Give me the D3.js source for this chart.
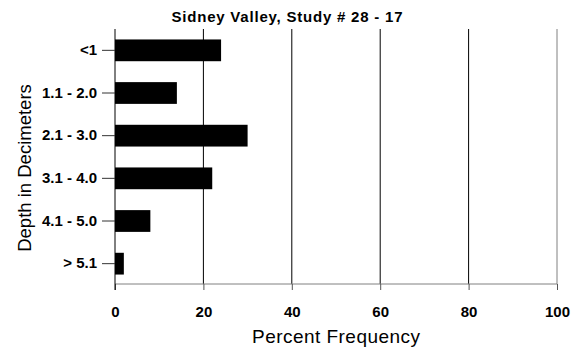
<!DOCTYPE html>
<html>
    <head>
        <meta charset="UTF-8">
        <script src="https://d3js.org/d3.v7.min.js"></script>
        <style>
            body { margin: 0; background: #fff; }
        </style>
    </head>

    <body>

        <svg id="canvas"></svg>

        <script>

            width = 572;
            height = 349;

            depths = ["<1", "1.1 - 2.0", "2.1 - 3.0", "3.1 - 4.0", "4.1 - 5.0", "> 5.1"];
            percents = [24, 14, 30, 22, 8, 2];
            xTicks = [0, 20, 40, 60, 80, 100];

            left = 115; right = 557;
            top_ = 29; bottom = 284;
            font = "Arial, 'Liberation Sans', sans-serif";

            canvas = d3.select("#canvas")
                .attr("width", width)
                .attr("height", height)
                .style("font-family", font);

            x = d3.scaleLinear().domain([0, 100]).range([left, right]);
            y = d3.scaleBand().domain(depths)
                .range([top_, bottom + 1])
                .paddingInner(0.49)
                .paddingOuter(0.245);

            // vertical grid lines
            canvas.selectAll("line.grid")
                .data(xTicks.slice(1))
                .enter().append("line")
                    .attr("class", "grid")
                    .attr("x1", d => x(d)).attr("x2", d => x(d))
                    .attr("y1", top_).attr("y2", bottom)
                    .style("stroke", (d) => d == 100 ? "#808080" : "#000")
                    .style("stroke-width", 1);

            // bars
            canvas.selectAll("rect.bar")
                .data(percents)
                .enter().append("rect")
                    .attr("class", "bar")
                    .attr("x", x(0))
                    .attr("y", (d, i) => y(depths[i]))
                    .attr("width", d => x(d) - x(0))
                    .attr("height", y.bandwidth())
                    .style("fill", "#000");

            // x axis
            xAxis = canvas.append("g")
                .attr("transform", "translate(0," + bottom + ")")
                .call(d3.axisBottom(x).tickValues(xTicks).tickSize(6).tickPadding(16));
            xAxis.select(".domain").attr("stroke", "#808080").attr("d", "M" + left + ",0H" + right);
            xAxis.selectAll(".tick line").attr("stroke", "#555");
            xAxis.selectAll("text")
                .style("font-size", "15px").style("font-weight", "bold")
                .style("font-family", font)
                .attr("fill", "#000");

            // y axis
            yAxis = canvas.append("g")
                .attr("transform", "translate(" + left + ",0)")
                .call(d3.axisLeft(y).tickSize(13).tickPadding(5));
            yAxis.select(".domain").attr("stroke", "#000").attr("d", "M0," + top_ + "V" + (bottom + 6));
            yAxis.selectAll(".tick line").attr("stroke", "#333");
            yAxis.selectAll("text")
                .style("font-size", "15px").style("font-weight", "bold")
                .style("font-family", font)
                .attr("fill", "#000");

            // titles
            canvas.append("text")
                .attr("x", 287).attr("y", 22)
                .attr("text-anchor", "middle")
                .attr("textLength", 231)
                .style("font-size", "15px").style("font-weight", "bold")
                .text("Sidney Valley, Study # 28 - 17");

            canvas.append("text")
                .attr("x", 336).attr("y", 343)
                .attr("text-anchor", "middle")
                .attr("textLength", 168)
                .style("font-size", "19px")
                .text("Percent Frequency");

            canvas.append("text")
                .attr("transform", "translate(31,168) rotate(-90)")
                .attr("text-anchor", "middle")
                .style("font-size", "18.5px")
                .text("Depth in Decimeters");

        </script>

    </body>

</html>
